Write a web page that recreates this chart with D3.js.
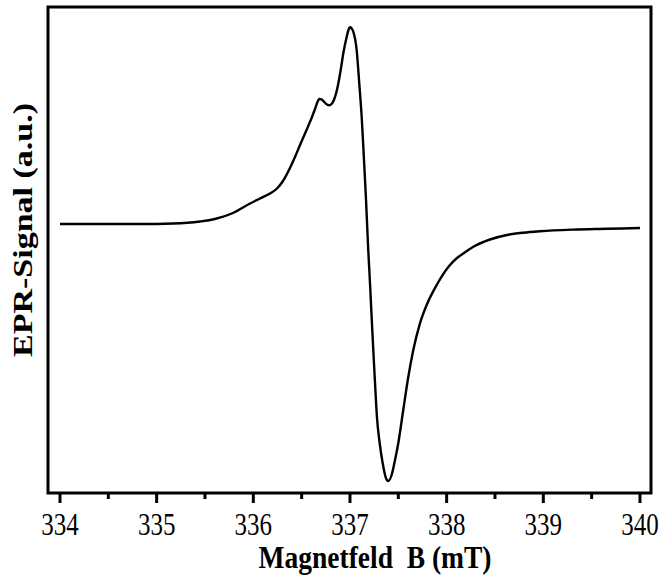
<!DOCTYPE html>
<html>
<head>
<meta charset="utf-8">
<script src="https://cdn.jsdelivr.net/npm/d3@7"></script>
<style>
  body { margin: 0; background: #fff; }
  svg { display: block; }
</style>
</head>
<body>
<div id="chart"></div>
<script>
// Size of the picture
const width = 662;
const height = 578;

// Field values (mT)
const field = [
  334.000, 334.414, 334.828, 335.169, 335.448, 335.603, 335.790, 335.966,
  336.069, 336.172, 336.245, 336.307, 336.379, 336.431, 336.483, 336.555,
  336.607, 336.638, 336.659, 336.671, 336.684, 336.705, 336.731, 336.762,
  336.786, 336.809, 336.834, 336.869, 336.904, 336.931, 336.966, 336.984,
  337.000, 337.016, 337.034, 337.069, 337.096, 337.121, 337.145, 337.166,
  337.189, 337.207, 337.224, 337.241, 337.259, 337.279, 337.307, 337.338,
  337.372, 337.396, 337.431, 337.466, 337.500, 337.551, 337.603, 337.655,
  337.724, 337.793, 337.897, 338.017, 338.107, 338.172, 338.272, 338.448,
  338.624, 338.790, 338.966, 339.307, 339.659, 340.000
];

// EPR signal (arbitrary units), same order as field
const signal = [
  0, 0, 0, 0.25, 1.25, 2.5, 5.5, 10.25,
  12.75, 15.25, 17.75, 21.5, 28, 33.5, 39.5, 47.5,
  53.5, 57.5, 60.4, 61.8, 62.5, 62.3, 61.15, 59.75,
  59.35, 60, 62, 67.85, 77, 85.35, 93.65, 97,
  98.35, 97.85, 96.15, 87, 70.35, 53.65, 32, 12,
  -13, -29.5, -46.5, -63, -79.5, -96.5, -109.5, -119.5,
  -127, -128.5, -125.5, -118, -109.5, -93, -76.5, -63,
  -49.65, -40.5, -30.5, -21.5, -17, -14.75, -11.5, -7.75,
  -5.5, -4.35, -3.6, -2.8, -2.4, -2
];

// Tick labels on the field axis
const majorTicks = [334, 335, 336, 337, 338, 339, 340];
const minorTicks = [334.5, 335.5, 336.5, 337.5, 338.5, 339.5];

const data = field.map((f, i) => ({ x: f, y: signal[i] }));

const frame = { left: 48, right: 651, top: 7, bottom: 493 };

const x = d3.scaleLinear()
    .domain([333.876, 340.114])
    .range([frame.left, frame.right]);

const y = d3.scaleLinear()
    .domain([-134.5, 108.5])
    .range([frame.bottom, frame.top]);

const svg = d3.select("#chart")
    .append("svg")
    .attr("width", width)
    .attr("height", height);

// the spectrum
const line = d3.line()
    .x(d => x(d.x))
    .y(d => y(d.y))
    .curve(d3.curveMonotoneX);

svg.append("path")
    .datum(data)
    .attr("fill", "none")
    .attr("stroke", "#000")
    .attr("stroke-width", 2.4)
    .attr("stroke-linejoin", "round")
    .attr("d", line);

// box round the plot
svg.append("rect")
    .attr("x", frame.left)
    .attr("y", frame.top)
    .attr("width", frame.right - frame.left)
    .attr("height", frame.bottom - frame.top)
    .attr("fill", "none")
    .attr("stroke", "#000")
    .attr("stroke-width", 3);

// ticks below the box
svg.selectAll(".major")
    .data(majorTicks)
    .enter().append("line")
    .attr("x1", d => x(d)).attr("x2", d => x(d))
    .attr("y1", frame.bottom).attr("y2", frame.bottom + 10)
    .attr("stroke", "#000")
    .attr("stroke-width", 3);

svg.selectAll(".minor")
    .data(minorTicks)
    .enter().append("line")
    .attr("x1", d => x(d)).attr("x2", d => x(d))
    .attr("y1", frame.bottom).attr("y2", frame.bottom + 6)
    .attr("stroke", "#000")
    .attr("stroke-width", 3);

// tick labels (narrow serif, like the original)
svg.selectAll(".ticklabel")
    .data(majorTicks)
    .enter().append("text")
    .attr("transform", d => `translate(${x(d)},535) scale(0.78,1)`)
    .attr("text-anchor", "middle")
    .style("font-family", "'Liberation Serif', 'DejaVu Serif', serif")
    .style("font-size", "32px")
    .text(d => d);

// axis titles
svg.append("text")
    .attr("transform", `translate(375,568) scale(0.86,1)`)
    .attr("text-anchor", "middle")
    .style("font-family", "'Liberation Serif', 'DejaVu Serif', serif")
    .style("font-weight", "bold")
    .style("font-size", "32px")
    .attr("xml:space", "preserve")
    .text("Magnetfeld  B (mT)");

svg.append("text")
    .attr("transform", `translate(32,230) rotate(-90) scale(1,0.8)`)
    .attr("text-anchor", "middle")
    .style("font-family", "'Liberation Serif', 'DejaVu Serif', serif")
    .style("font-weight", "bold")
    .style("font-size", "34px")
    .text("EPR-Signal (a.u.)");
</script>
</body>
</html>
